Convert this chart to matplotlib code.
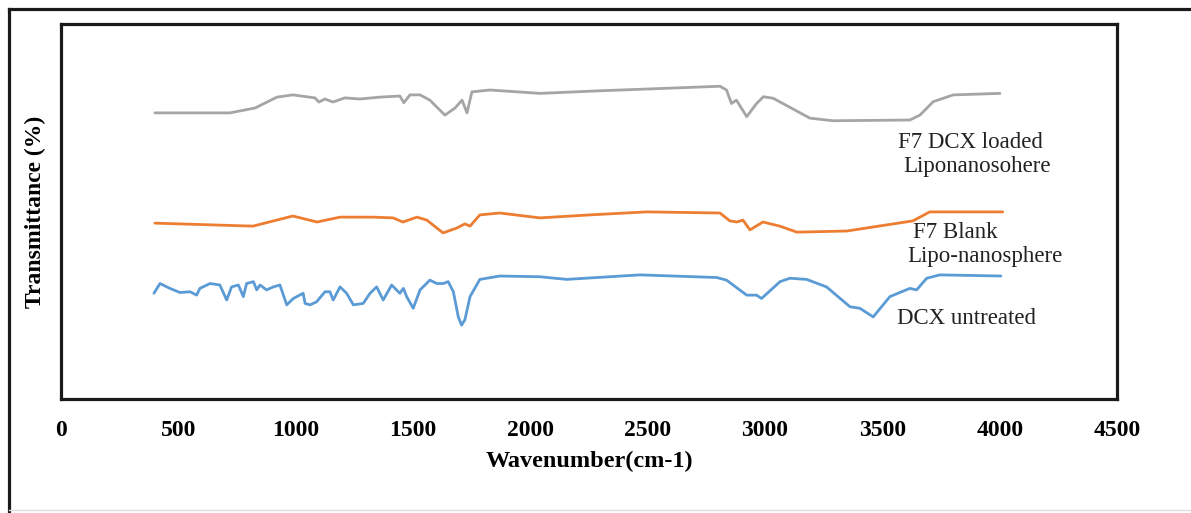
import matplotlib.pyplot as plt
from matplotlib.lines import Line2D

# FTIR spectra (wavenumber in cm-1, transmittance in arbitrary units)
loaded_wn = [400, 720, 827, 920, 988, 1082, 1099, 1125, 1159, 1210, 1274, 1359, 1444, 1461,
             1487, 1530, 1572, 1636, 1679, 1709, 1730, 1751, 1828, 2041, 2300, 2808, 2836,
             2857, 2878, 2922, 2964, 2993, 3035, 3191, 3290, 3617, 3660, 3717, 3802, 4001]
loaded_t = [76.3, 76.3, 77.6, 80.5, 81.1, 80.3, 79.2, 80.0, 79.2, 80.3, 80.0, 80.5, 80.8, 79.0,
            81.1, 81.1, 79.7, 75.7, 77.6, 79.7, 76.3, 81.9, 82.4, 81.5, 82.2, 83.4, 82.4,
            78.8, 79.7, 75.3, 78.8, 80.6, 80.2, 74.9, 74.2, 74.4, 75.7, 79.3, 81.1, 81.5]

blank_wn = [400, 818, 988, 1091, 1189, 1329, 1415, 1457, 1517, 1559, 1628, 1687, 1721, 1743,
            1785, 1870, 2041, 2254, 2497, 2808, 2850, 2880, 2906, 2936, 2991, 3063, 3136,
            3349, 3630, 3702, 4013]
blank_t = [46.9, 46.1, 48.8, 47.2, 48.5, 48.5, 48.3, 47.2, 48.5, 47.7, 44.3, 45.6, 46.7, 46.1,
           49.1, 49.6, 48.3, 49.1, 49.9, 49.6, 47.5, 47.2, 47.7, 45.1, 47.2, 46.1, 44.5,
           44.8, 47.5, 49.9, 49.9]

dcx_wn = [396, 422, 464, 507, 550, 578, 592, 635, 677, 706, 727, 756, 777, 791, 820, 834, 848,
          876, 905, 933, 962, 990, 1032, 1040, 1061, 1089, 1125, 1146, 1160, 1189, 1217, 1246,
          1288, 1317, 1345, 1373, 1409, 1444, 1459, 1473, 1501, 1530, 1572, 1601, 1629, 1650,
          1672, 1693, 1707, 1721, 1743, 1785, 1870, 2041, 2155, 2467, 2794, 2836, 2922, 2964,
          2985, 3064, 3106, 3177, 3262, 3362, 3404, 3461, 3532, 3617, 3646, 3689, 3745, 4005]
dcx_t = [28.2, 30.8, 29.5, 28.4, 28.6, 27.7, 29.5, 30.8, 30.4, 26.4, 29.9, 30.4, 27.3, 30.8,
         31.3, 29.1, 30.4, 29.1, 29.9, 30.4, 25.1, 26.8, 28.2, 25.5, 25.1, 25.9, 28.6, 28.6,
         26.4, 29.9, 28.2, 25.1, 25.5, 28.2, 29.9, 26.4, 30.4, 28.2, 29.5, 27.3, 24.2, 29.1,
         31.7, 30.8, 30.8, 31.3, 28.6, 21.9, 19.7, 21.1, 27.3, 31.9, 32.8, 32.6, 31.9, 33.1,
         32.4, 31.7, 27.7, 27.7, 26.8, 31.3, 32.2, 31.9, 29.9, 24.6, 24.2, 21.9, 27.3, 29.5,
         29.1, 32.2, 33.1, 32.8]

x_ticks = [0, 500, 1000, 1500, 2000, 2500, 3000, 3500, 4000, 4500]

serif = 'Liberation Serif'

fig = plt.figure(figsize=(11.91, 5.13), dpi=100)
ax = fig.add_axes([0.0512, 0.2222, 0.8867, 0.731])

line_style = dict(linewidth=2.0, solid_joinstyle='round', solid_capstyle='round')
ax.plot(loaded_wn, loaded_t, color='#A5A5A5', **line_style)
ax.plot(blank_wn, blank_t, color='#ED7D31', **line_style)
ax.plot(dcx_wn, dcx_t, color='#5B9BD5', **line_style)

ax.set_xlim(0, 4500)
ax.set_ylim(0, 100)
ax.set_xticks(x_ticks)
ax.set_xticklabels([str(t) for t in x_ticks], fontfamily=serif, fontweight='bold', fontsize=17)
ax.set_yticks([])
ax.tick_params(axis='x', length=0, pad=15)

for side in ['top', 'bottom', 'left', 'right']:
    ax.spines[side].set_linewidth(2.3)
    ax.spines[side].set_color('#1a1a1a')

ax.set_xlabel('Wavenumber(cm-1)', fontfamily=serif, fontweight='bold', fontsize=17.5, labelpad=7)
ax.set_ylabel('Transmittance (%)', fontfamily=serif, fontweight='bold', fontsize=17, labelpad=11)

# curve labels
label_font = dict(fontfamily=serif, fontsize=16.5, ha='left', va='center', color='#222222')
ax.text(3566, 68.3, 'F7 DCX loaded', **label_font)
ax.text(3588, 61.9, 'Liponanosohere', **label_font)
ax.text(3630, 44.5, 'F7 Blank', **label_font)
ax.text(3605, 37.9, 'Lipo-nanosphere', **label_font)
ax.text(3562, 21.6, 'DCX untreated', **label_font)

# outer frame of the original figure (left and top edges)
fig.add_artist(Line2D([0.0076, 0.0076], [0.0, 0.982], transform=fig.transFigure,
                      color='#1a1a1a', linewidth=2.3))
fig.add_artist(Line2D([0.0076, 1.0], [0.982, 0.982], transform=fig.transFigure,
                      color='#1a1a1a', linewidth=2.3))
fig.add_artist(Line2D([0.0076, 1.0], [0.006, 0.006], transform=fig.transFigure,
                      color='#dddddd', linewidth=1.0))

fig.savefig('out.png', dpi=100)
